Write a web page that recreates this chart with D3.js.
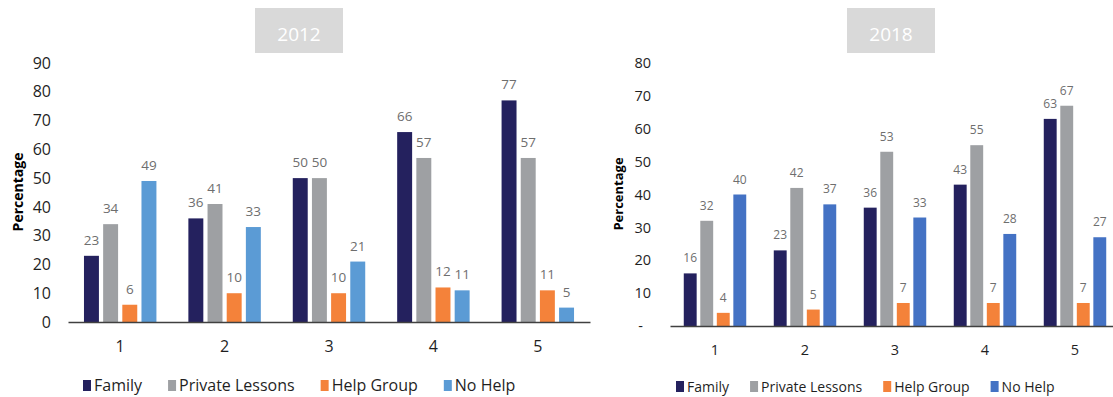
<!DOCTYPE html>
<html>
<head>
<meta charset="utf-8">
<script src="https://cdn.jsdelivr.net/npm/d3@7"></script>
<style>
  html, body { margin: 0; padding: 0; background: #fff; }
  svg { display: block; font-family: "Open Sans", "Noto Sans", sans-serif; }
</style>
</head>
<body>
<svg id="chart" width="1113" height="397"></svg>
<script>
// ---- Data ----
const categories = ["1", "2", "3", "4", "5"];
const seriesNames = ["Family", "Private Lessons", "Help Group", "No Help"];

const family2012  = [23, 36, 50, 66, 77];
const private2012 = [34, 41, 50, 57, 57];
const help2012    = [6, 10, 10, 12, 11];
const noHelp2012  = [49, 33, 21, 11, 5];

const family2018  = [16, 23, 36, 43, 63];
const private2018 = [32, 42, 53, 55, 67];
const help2018    = [4, 5, 7, 7, 7];
const noHelp2018  = [40, 37, 33, 28, 27];

const yTicks2012 = [0, 10, 20, 30, 40, 50, 60, 70, 80, 90];
const yTickLabels2012 = ["0", "10", "20", "30", "40", "50", "60", "70", "80", "90"];
const yTicks2018 = [0, 10, 20, 30, 40, 50, 60, 70, 80];
const yTickLabels2018 = ["-", "10", "20", "30", "40", "50", "60", "70", "80"];

const yearTitles = ["2012", "2018"];
const yAxisTitle = "Percentage";

// ---- Drawing ----
const svg = d3.select("#chart");

function drawPanel(opt) {
  const g = svg.append("g");
  const series = [opt.family, opt.priv, opt.help, opt.noHelp];
  const color = d3.scaleOrdinal().domain(seriesNames).range(opt.colors);

  const x0 = d3.scaleBand().domain(categories).range([opt.left, opt.right])
    .paddingInner(0.306).paddingOuter(0.153);
  const x1 = d3.scaleBand().domain(seriesNames).range([0, x0.bandwidth()])
    .paddingInner(0.22);
  const y = d3.scaleLinear().domain([0, opt.yMax]).range([opt.bottom, opt.top]);

  // title box
  const tw = opt.titleW, th = 45;
  g.append("rect")
    .attr("x", opt.titleCx - tw / 2).attr("y", 8)
    .attr("width", tw).attr("height", th)
    .attr("fill", "#d9d9d9");
  g.append("text")
    .attr("x", opt.titleCx).attr("y", 40.5)
    .attr("text-anchor", "middle")
    .attr("fill", "#ffffff")
    .attr("font-size", 19)
    .text(opt.title);

  // y axis
  const yAxis = d3.axisLeft(y).tickValues(opt.yTicks)
    .tickFormat((d, i) => opt.yTickLabels[i])
    .tickSize(0).tickPadding(opt.yPad);
  const ya = g.append("g").attr("transform", `translate(${opt.left},0)`).call(yAxis);
  ya.select(".domain").remove();
  ya.selectAll("text")
    .attr("font-family", "'Open Sans', sans-serif")
    .attr("font-size", opt.tickFont)
    .attr("fill", "#1f1f1f")
    .attr("dx", d => (d === 0 && opt.zeroShift) ? -opt.zeroShift : 0);

  // y axis title
  g.append("text")
    .attr("transform", `translate(${opt.yTitleX},${opt.yTitleY}) rotate(-90)`)
    .attr("text-anchor", "middle")
    .attr("font-weight", "bold")
    .attr("font-size", opt.yTitleFont)
    .attr("fill", "#000")
    .text(yAxisTitle);

  // bars
  const groups = g.append("g").selectAll("g")
    .data(categories)
    .join("g")
    .attr("transform", d => `translate(${x0(d)},0)`);

  groups.selectAll("rect")
    .data((c, ci) => seriesNames.map((s, si) => ({ s, v: series[si][ci] })))
    .join("rect")
    .attr("x", d => x1(d.s))
    .attr("y", d => y(d.v))
    .attr("width", x1.bandwidth())
    .attr("height", d => y(0) - y(d.v))
    .attr("fill", d => color(d.s));

  groups.selectAll("text.val")
    .data((c, ci) => seriesNames.map((s, si) => ({ s, v: series[si][ci] })))
    .join("text")
    .attr("class", "val")
    .attr("x", d => x1(d.s) + x1.bandwidth() / 2)
    .attr("y", d => y(d.v) - 11)
    .attr("text-anchor", "middle")
    .attr("font-size", opt.labelFont)
    .attr("fill", "#6e6e6e")
    .text(d => d.v);

  // x axis
  const xAxis = d3.axisBottom(x0).tickSize(0).tickSizeOuter(0).tickPadding(opt.xPad);
  const xa = g.append("g").attr("transform", `translate(0,${opt.bottom})`).call(xAxis);
  xa.select(".domain").attr("stroke", "#404040").attr("stroke-width", 1.6);
  xa.selectAll("text")
    .attr("font-family", "'Open Sans', sans-serif")
    .attr("font-size", opt.tickFont)
    .attr("fill", "#1f1f1f");

  // legend
  const lg = g.append("g");
  let cx = opt.legendX;
  seriesNames.forEach(s => {
    lg.append("rect")
      .attr("x", cx).attr("y", opt.legendY - 11)
      .attr("width", 8).attr("height", 11)
      .attr("fill", color(s));
    const t = lg.append("text")
      .attr("x", cx + opt.legendTextGap).attr("y", opt.legendY)
      .attr("font-size", opt.legendFont)
      .attr("fill", "#1f1f1f")
      .text(s);
    cx += opt.legendTextGap + t.node().getComputedTextLength() + opt.legendGap;
  });
}

drawPanel({
  title: yearTitles[0], titleCx: 299, titleW: 88,
  family: family2012, priv: private2012, help: help2012, noHelp: noHelp2012,
  colors: ["#24215e", "#9ea0a3", "#f4823a", "#5b9bd5"],
  left: 68, right: 590, top: 63, bottom: 322, yMax: 90,
  yTicks: yTicks2012, yTickLabels: yTickLabels2012, yPad: 17,
  tickFont: 16, labelFont: 13.5, xPad: 18.5,
  yTitleX: 23, yTitleY: 192, yTitleFont: 14,
  legendX: 83, legendY: 391, legendFont: 16, legendTextGap: 11, legendGap: 26
});

drawPanel({
  title: yearTitles[1], titleCx: 891, titleW: 88,
  family: family2018, priv: private2018, help: help2018, noHelp: noHelp2018,
  colors: ["#24215e", "#9ea0a3", "#f4823a", "#4472c4"],
  left: 670, right: 1120, top: 63, bottom: 326, yMax: 80,
  yTicks: yTicks2018, yTickLabels: yTickLabels2018, yPad: 19, zeroShift: 8,
  tickFont: 14.5, labelFont: 12, xPad: 19,
  yTitleX: 623, yTitleY: 194, yTitleFont: 13,
  legendX: 676, legendY: 392, legendFont: 14, legendTextGap: 11, legendGap: 21
});
</script>
</body>
</html>
